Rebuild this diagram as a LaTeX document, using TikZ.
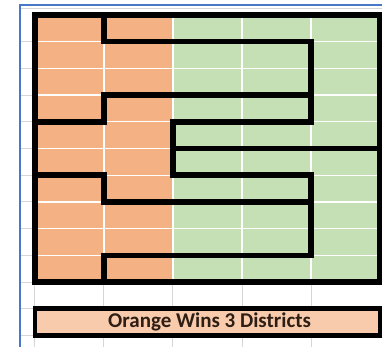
\documentclass[tikz,border=0pt]{standalone}
\usepackage{fontspec}
\setmainfont{Carlito}
\definecolor{dsorange}{HTML}{F4B183}
\definecolor{dsgreen}{HTML}{C5E0B4}
\definecolor{dslabel}{HTML}{F8CBAD}
\definecolor{dsgrid}{HTML}{D6D6D6}
\definecolor{dsblue}{HTML}{4A78C8}
\definecolor{dstext}{HTML}{2E1E14}

\begin{document}
\begin{tikzpicture}[x=69pt,y=-26.7pt,line join=miter]
  \useasboundingbox (-0.5072,-0.5618) rectangle (5.029,12.4345);
  % sheet gridlines outside the map
  \draw[dsgrid,line width=1pt] (-0.2174,-0.225) -- (5.03,-0.225);
  \foreach \r in {1,...,12}{\draw[dsgrid,line width=1pt] (-0.2174,\r) -- (0,\r);}
  \foreach \r in {10,11,12}{\draw[dsgrid,line width=1pt] (0,\r) -- (5.03,\r);}
  \foreach \c in {0,...,4}{\draw[dsgrid,line width=1pt] (\c,10) -- (\c,12.44);}
  % cells
  \fill[dsorange] (0,0) rectangle (2,10);
  \fill[dsgreen] (2,0) rectangle (5,10);
  \foreach \r in {1,...,9}{\draw[white,line width=1.3pt] (0,\r) -- (5,\r);}
  \foreach \c in {1,...,4}{\draw[white,line width=1.3pt] (\c,0) -- (\c,10);}
  % district borders
  \draw[line width=5.5pt] (0,0) rectangle (5,10);
  \draw[line width=5.5pt] (1,0) -- (1,1) -- (4,1) -- (4,4) -- (2,4) -- (2,6) -- (4,6) -- (4,9) -- (1,9) -- (1,10);
  \draw[line width=5.5pt] (4,3) -- (1,3) -- (1,4) -- (0,4);
  \draw[line width=5.5pt] (0,6) -- (1,6) -- (1,7) -- (4,7);
  \draw[line width=5.5pt] (2,5) -- (5,5);
  % result
  \draw[line width=4.5pt,fill=dslabel] (0,11) rectangle (5,12);
  \node[font=\bfseries\fontsize{21}{23}\selectfont,text=dstext] (result) at (2.53,11.5) {Orange Wins 3 Districts};
  % sheet edge
  \draw[dsblue,line width=2pt] (-0.2174,12.44) -- (-0.2174,-0.3745) -- (5.03,-0.3745);
\end{tikzpicture}
\end{document}
